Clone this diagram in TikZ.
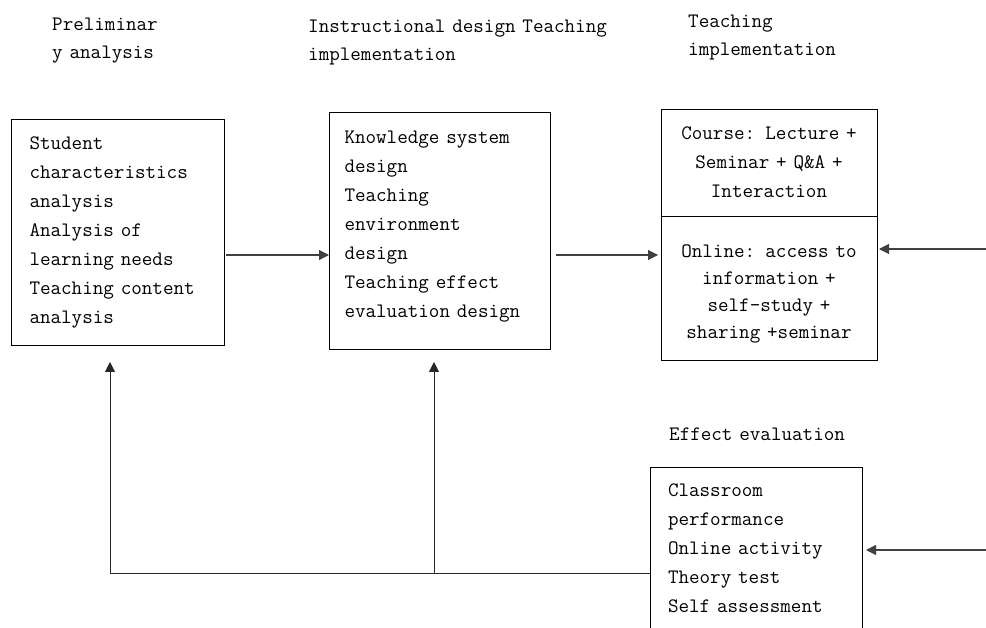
\documentclass[tikz,border=0pt]{standalone}
\usepackage{fontspec}
\newcommand\boxfont{\ttfamily}
\usetikzlibrary{arrows.meta, positioning, calc}

\begin{document}
\begin{tikzpicture}[x=1pt, y=-1pt,
  box/.style={draw, line width=0.9pt, outer sep=0pt, inner ysep=0pt,
              font=\boxfont\fontsize{20.5}{29}\selectfont},
  title/.style={inner sep=0pt, anchor=base west, align=left, text width=400pt,
                font=\boxfont\fontsize{20.5}{28}\selectfont},
  flow/.style={-{Triangle[length=10pt, width=10pt]}, line width=1.1pt, black!75},
  feed/.style={-{Triangle[length=10pt, width=10pt]}, line width=0.9pt, black!85}]
  \useasboundingbox (0,0) rectangle (986,628);

  % stage titles
  \node[title] (tprelim) at (52,31) {Preliminar\\y analysis};
  \node[title] (tdesign) at (308,33) {Instructional design Teaching\\implementation};
  \node[title] (tteach) at (688,28) {Teaching\\implementation};
  \node[title] (teval) at (669,440) {Effect evaluation};

  % boxes
  \node[box, text width=176pt, inner xsep=18.5pt, minimum height=226pt, align=left]
    (prelim) at (117.5,232)
    {Student\\characteristics\\analysis\\Analysis of\\learning needs\\Teaching content\\analysis};
  \node[box, text width=190pt, inner xsep=15.5pt, minimum height=237pt, align=left,
        text depth=186pt]
    (design) at (439.5,230.5)
    {Knowledge system\\design\\Teaching\\environment\\design\\Teaching effect\\evaluation design};
  \node[box, text width=196pt, inner xsep=10pt, minimum height=107pt, align=center]
    (course) at (769,162.5) {Course: Lecture +\\Seminar + Q\&A +\\Interaction};
  \node[box, text width=196pt, inner xsep=10pt, minimum height=144pt, align=center,
        text depth=73pt, font=\boxfont\fontsize{20.5}{27}\selectfont, below=0pt of course]
    (online) {Online: access to\\information +\\self-study +\\sharing +seminar};
  \node[box, text width=176pt, inner xsep=18pt, minimum height=175pt, align=left,
        text depth=129pt, anchor=north]
    (evaluate) at (756,467)
    {Classroom\\performance\\Online activity\\Theory test\\Self assessment};

  % forward flow
  \coordinate (midrow) at (0,255);
  \draw[flow, shorten <=2pt] (prelim.east |- midrow) -- (design.west |- midrow);
  \draw[flow, shorten <=6pt, shorten >=3pt] (design.east |- midrow) -- (online.west |- midrow);

  % inputs from the right
  \coordinate (inonline) at (986,249);
  \coordinate (ineval) at (986,550);
  \draw[flow, shorten >=2pt] (inonline) -- (online.east |- inonline);
  \draw[flow, shorten >=4pt] (ineval) -- (evaluate.east |- ineval);

  % feedback from evaluation
  \coordinate (fbleft) at (110,573);
  \coordinate (fbmid) at (434,573);
  \draw[line width=0.9pt, black!85] (evaluate.west |- fbleft) -- (fbleft);
  \draw[feed, shorten >=17pt] (fbleft) -- (fbleft |- prelim.south);
  \draw[feed, shorten >=13pt] (fbmid) -- (fbmid |- design.south);
\end{tikzpicture}
\end{document}
